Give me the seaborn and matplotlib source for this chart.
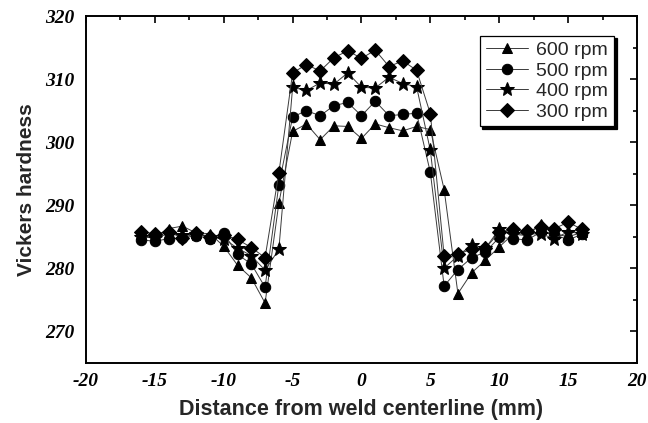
import matplotlib
matplotlib.use("Agg")
import matplotlib.pyplot as plt
from matplotlib.ticker import MultipleLocator
import seaborn as sns
import pandas as pd

# Distance from the weld centreline (mm)
distance = list(range(-16, 17))

# Vickers hardness profiles for each tool rotation speed
hv_600 = [285.4, 285.0, 286.3, 286.7, 285.6, 285.5, 283.5, 280.5, 278.5, 274.5,
          290.3, 301.7, 302.9, 300.4, 302.6, 302.5, 300.6, 302.9, 302.3, 301.8,
          302.5, 302.0, 292.5, 276.0, 279.3, 281.3, 283.4, 285.4, 285.2, 287.0,
          285.5, 285.0, 285.7]
hv_500 = [284.5, 284.3, 284.7, 284.8, 285.2, 284.7, 285.6, 282.2, 280.7, 277.0,
          293.2, 304.0, 305.0, 304.2, 305.8, 306.3, 304.2, 306.5, 304.2, 304.4,
          304.6, 295.2, 277.2, 279.8, 281.7, 282.6, 284.9, 284.7, 284.5, 285.7,
          285.4, 284.5, 285.4]
hv_400 = [285.0, 284.8, 285.5, 285.3, 285.4, 285.0, 284.7, 283.2, 282.0, 279.7,
          283.0, 308.7, 308.2, 309.4, 309.2, 311.0, 308.7, 308.6, 310.3, 309.3,
          308.8, 298.7, 280.0, 282.0, 283.7, 283.2, 286.2, 285.5, 285.4, 285.5,
          284.7, 285.8, 285.5]
hv_300 = [285.8, 285.5, 285.8, 284.8, 285.6, 285.0, 285.3, 284.6, 283.3, 281.7,
          295.1, 311.0, 312.3, 311.3, 313.4, 314.5, 313.3, 314.6, 312.0, 312.9,
          311.4, 304.5, 282.0, 282.3, 283.0, 283.2, 285.7, 286.2, 285.9, 286.5,
          286.3, 287.3, 286.2]

speeds = ["600 rpm", "500 rpm", "400 rpm", "300 rpm"]
series = [hv_600, hv_500, hv_400, hv_300]
marker_map = {"600 rpm": "^", "500 rpm": "o", "400 rpm": "*", "300 rpm": "D"}

frames = [pd.DataFrame({"distance": distance, "hardness": vals, "speed": name})
          for name, vals in zip(speeds, series)]
df = pd.concat(frames, ignore_index=True)

sns.set_style("white")
plt.rcParams["font.family"] = ["Liberation Sans", "DejaVu Sans"]
plt.rcParams["axes.unicode_minus"] = False

fig = plt.figure(figsize=(6.48, 4.23), dpi=100)
ax = fig.add_axes([0.1327, 0.142, 0.8503, 0.820])

sns.lineplot(
    data=df, x="distance", y="hardness", hue="speed", style="speed",
    hue_order=speeds, style_order=speeds,
    palette={s: "black" for s in speeds}, markers=marker_map, dashes=False,
    linewidth=0.7, markersize=7.5, markeredgecolor="black",
    ax=ax, legend=True,
)
for line in ax.lines:
    line.set_color("#3a3a3a")
    line.set_markerfacecolor("black")
    line.set_markeredgecolor("black")
    if line.get_marker() == "*":
        line.set_markersize(10)
    elif line.get_marker() == "D":
        line.set_markersize(6.8)

ax.set_xlim(-20, 20)
ax.set_ylim(265, 320)
ax.xaxis.set_major_locator(MultipleLocator(5))
ax.xaxis.set_minor_locator(MultipleLocator(2.5))
ax.yaxis.set_major_locator(MultipleLocator(10))
ax.yaxis.set_minor_locator(MultipleLocator(5))
ax.set_yticks([270, 280, 290, 300, 310, 320])

ax.tick_params(which="both", direction="in", top=True, right=True,
               colors="black", width=1.2)
ax.tick_params(which="major", length=5, pad=7)
ax.tick_params(which="minor", length=3)
ax.tick_params(axis="y", which="major", pad=8)
for lbl in ax.get_xticklabels() + ax.get_yticklabels():
    lbl.set_fontfamily(["Liberation Serif", "DejaVu Serif"])
    lbl.set_fontweight("bold")
    lbl.set_fontstyle("italic")
    lbl.set_fontsize(14)

for sp in ax.spines.values():
    sp.set_color("black")
    sp.set_linewidth(1.4)

ax.set_xlabel("Distance from weld centerline (mm)", fontsize=15.5,
              fontweight="bold", labelpad=7)
ax.set_ylabel("Vickers hardness", fontsize=15, fontweight="bold", labelpad=7)

handles, labels = ax.get_legend_handles_labels()
ax.legend(handles, labels, loc="upper right", bbox_to_anchor=(0.965, 0.955),
          fontsize=14, frameon=True, fancybox=False, edgecolor="black",
          framealpha=1, shadow={"color": "black", "alpha": 1},
          handlelength=2.2, handletextpad=0.4, borderpad=0.3,
          labelspacing=0.15, borderaxespad=0.2)
ax.get_legend().get_frame().set_linewidth(0.9)

fig.savefig("out.png", dpi=100)
